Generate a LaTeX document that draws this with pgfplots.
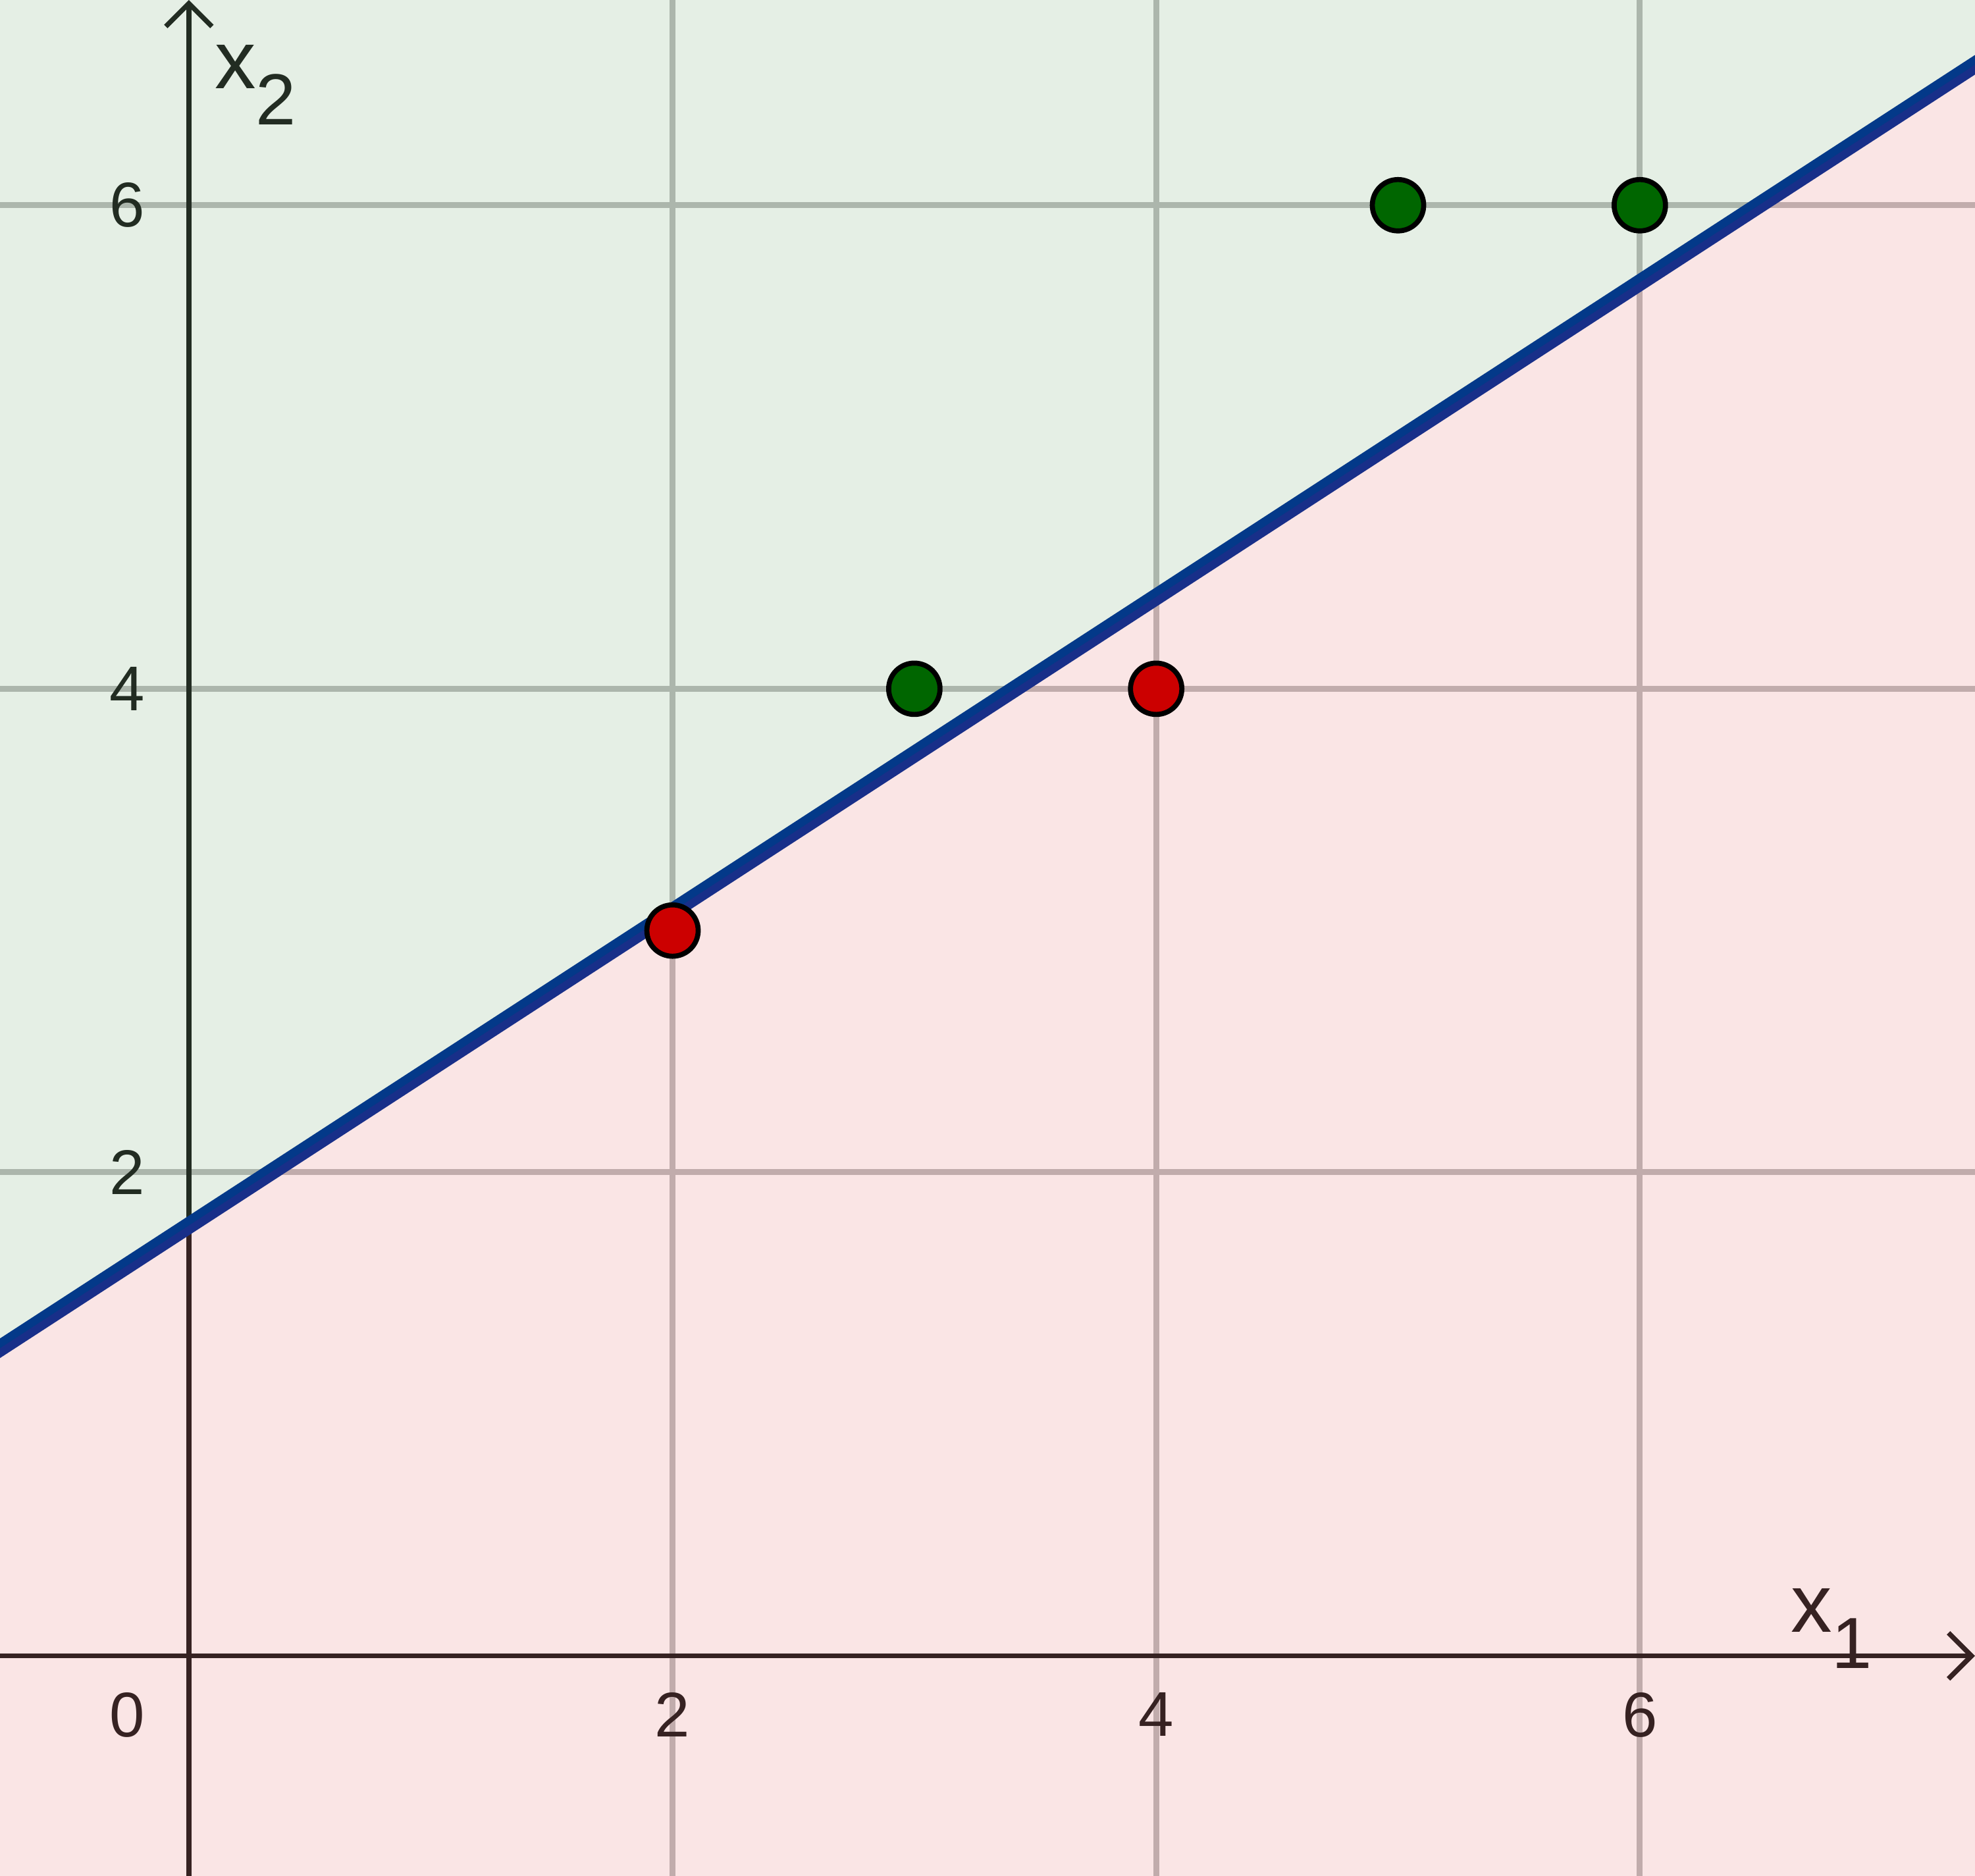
\documentclass[border=0pt]{standalone}
\usepackage{fontspec}
\setmainfont{Liberation Sans}
\usepackage{pgfplots}
\pgfplotsset{compat=1.18}
\usetikzlibrary{arrows.meta,calc}
\definecolor{axcol}{HTML}{262626}
\definecolor{gridcol}{HTML}{C0C0C0}
\definecolor{linecol}{RGB}{4,53,153}
\definecolor{gpt}{HTML}{006600}
\definecolor{rpt}{HTML}{CC0000}
\begin{document}
\begin{tikzpicture}
\begin{axis}[
  width=300pt, height=285pt, scale only axis,
  xmin=-0.781, xmax=7.386, ymin=-0.910, ymax=6.849,
  axis lines=middle,
  axis line style={draw=axcol, line width=0.75pt, -{Straight Barb[length=3.5pt,width=7pt]}},
  xtick={2,4,6}, ytick={2,4,6},
  grid=major,
  major grid style={draw=gridcol, line width=0.9pt},
  major tick length=0pt,
  /pgf/number format/assume math mode=true,
  ticklabel style={font=\fontsize{9.6}{10}\selectfont, text=axcol, inner sep=0pt},
  xticklabel style={anchor=north, yshift=-5.4pt},
  yticklabel style={anchor=east, xshift=-6.5pt},
]
\coordinate (SW) at (rel axis cs:0,0);
\coordinate (NE) at (rel axis cs:1,1);
\node[anchor=north east, inner sep=0pt, text=axcol, font=\fontsize{9.6}{10}\selectfont] at ($(axis cs:0,0)+(-6.5pt,-5.4pt)$) {0};
\node[anchor=base west, inner sep=0pt, text=axcol] at (axis cs:6.619,0.097) {\fontsize{12.5}{12.5}\selectfont x\raisebox{-5.5pt}{\fontsize{11}{11}\selectfont 1}};
\node[anchor=base west, inner sep=0pt, text=axcol] at (axis cs:0.102,6.484) {\fontsize{12.5}{12.5}\selectfont x\raisebox{-5.5pt}{\fontsize{11}{11}\selectfont 2}};
% boundary line
\addplot[draw=linecol, line width=2.5pt] coordinates {(-1,1.13) (8,6.98)};
% regions
\addplot[draw=none, fill=gpt, fill opacity=0.1] coordinates {(-1,1.13) (8,6.98) (8,8) (-1,8)} -- cycle;
\addplot[draw=none, fill=rpt, fill opacity=0.1] coordinates {(-1,1.13) (8,6.98) (8,-2) (-1,-2)} -- cycle;
% points
\addplot[only marks, mark=*, mark size=3.9pt, mark options={fill=gpt, draw=black, line width=0.77pt}] coordinates {(3,4) (5,6) (6,6)};
\addplot[only marks, mark=*, mark size=3.9pt, mark options={fill=rpt, draw=black, line width=0.77pt}] coordinates {(2,3) (4,4)};
\end{axis}
\pgfresetboundingbox
\useasboundingbox (SW) rectangle (NE);
\end{tikzpicture}
\end{document}
